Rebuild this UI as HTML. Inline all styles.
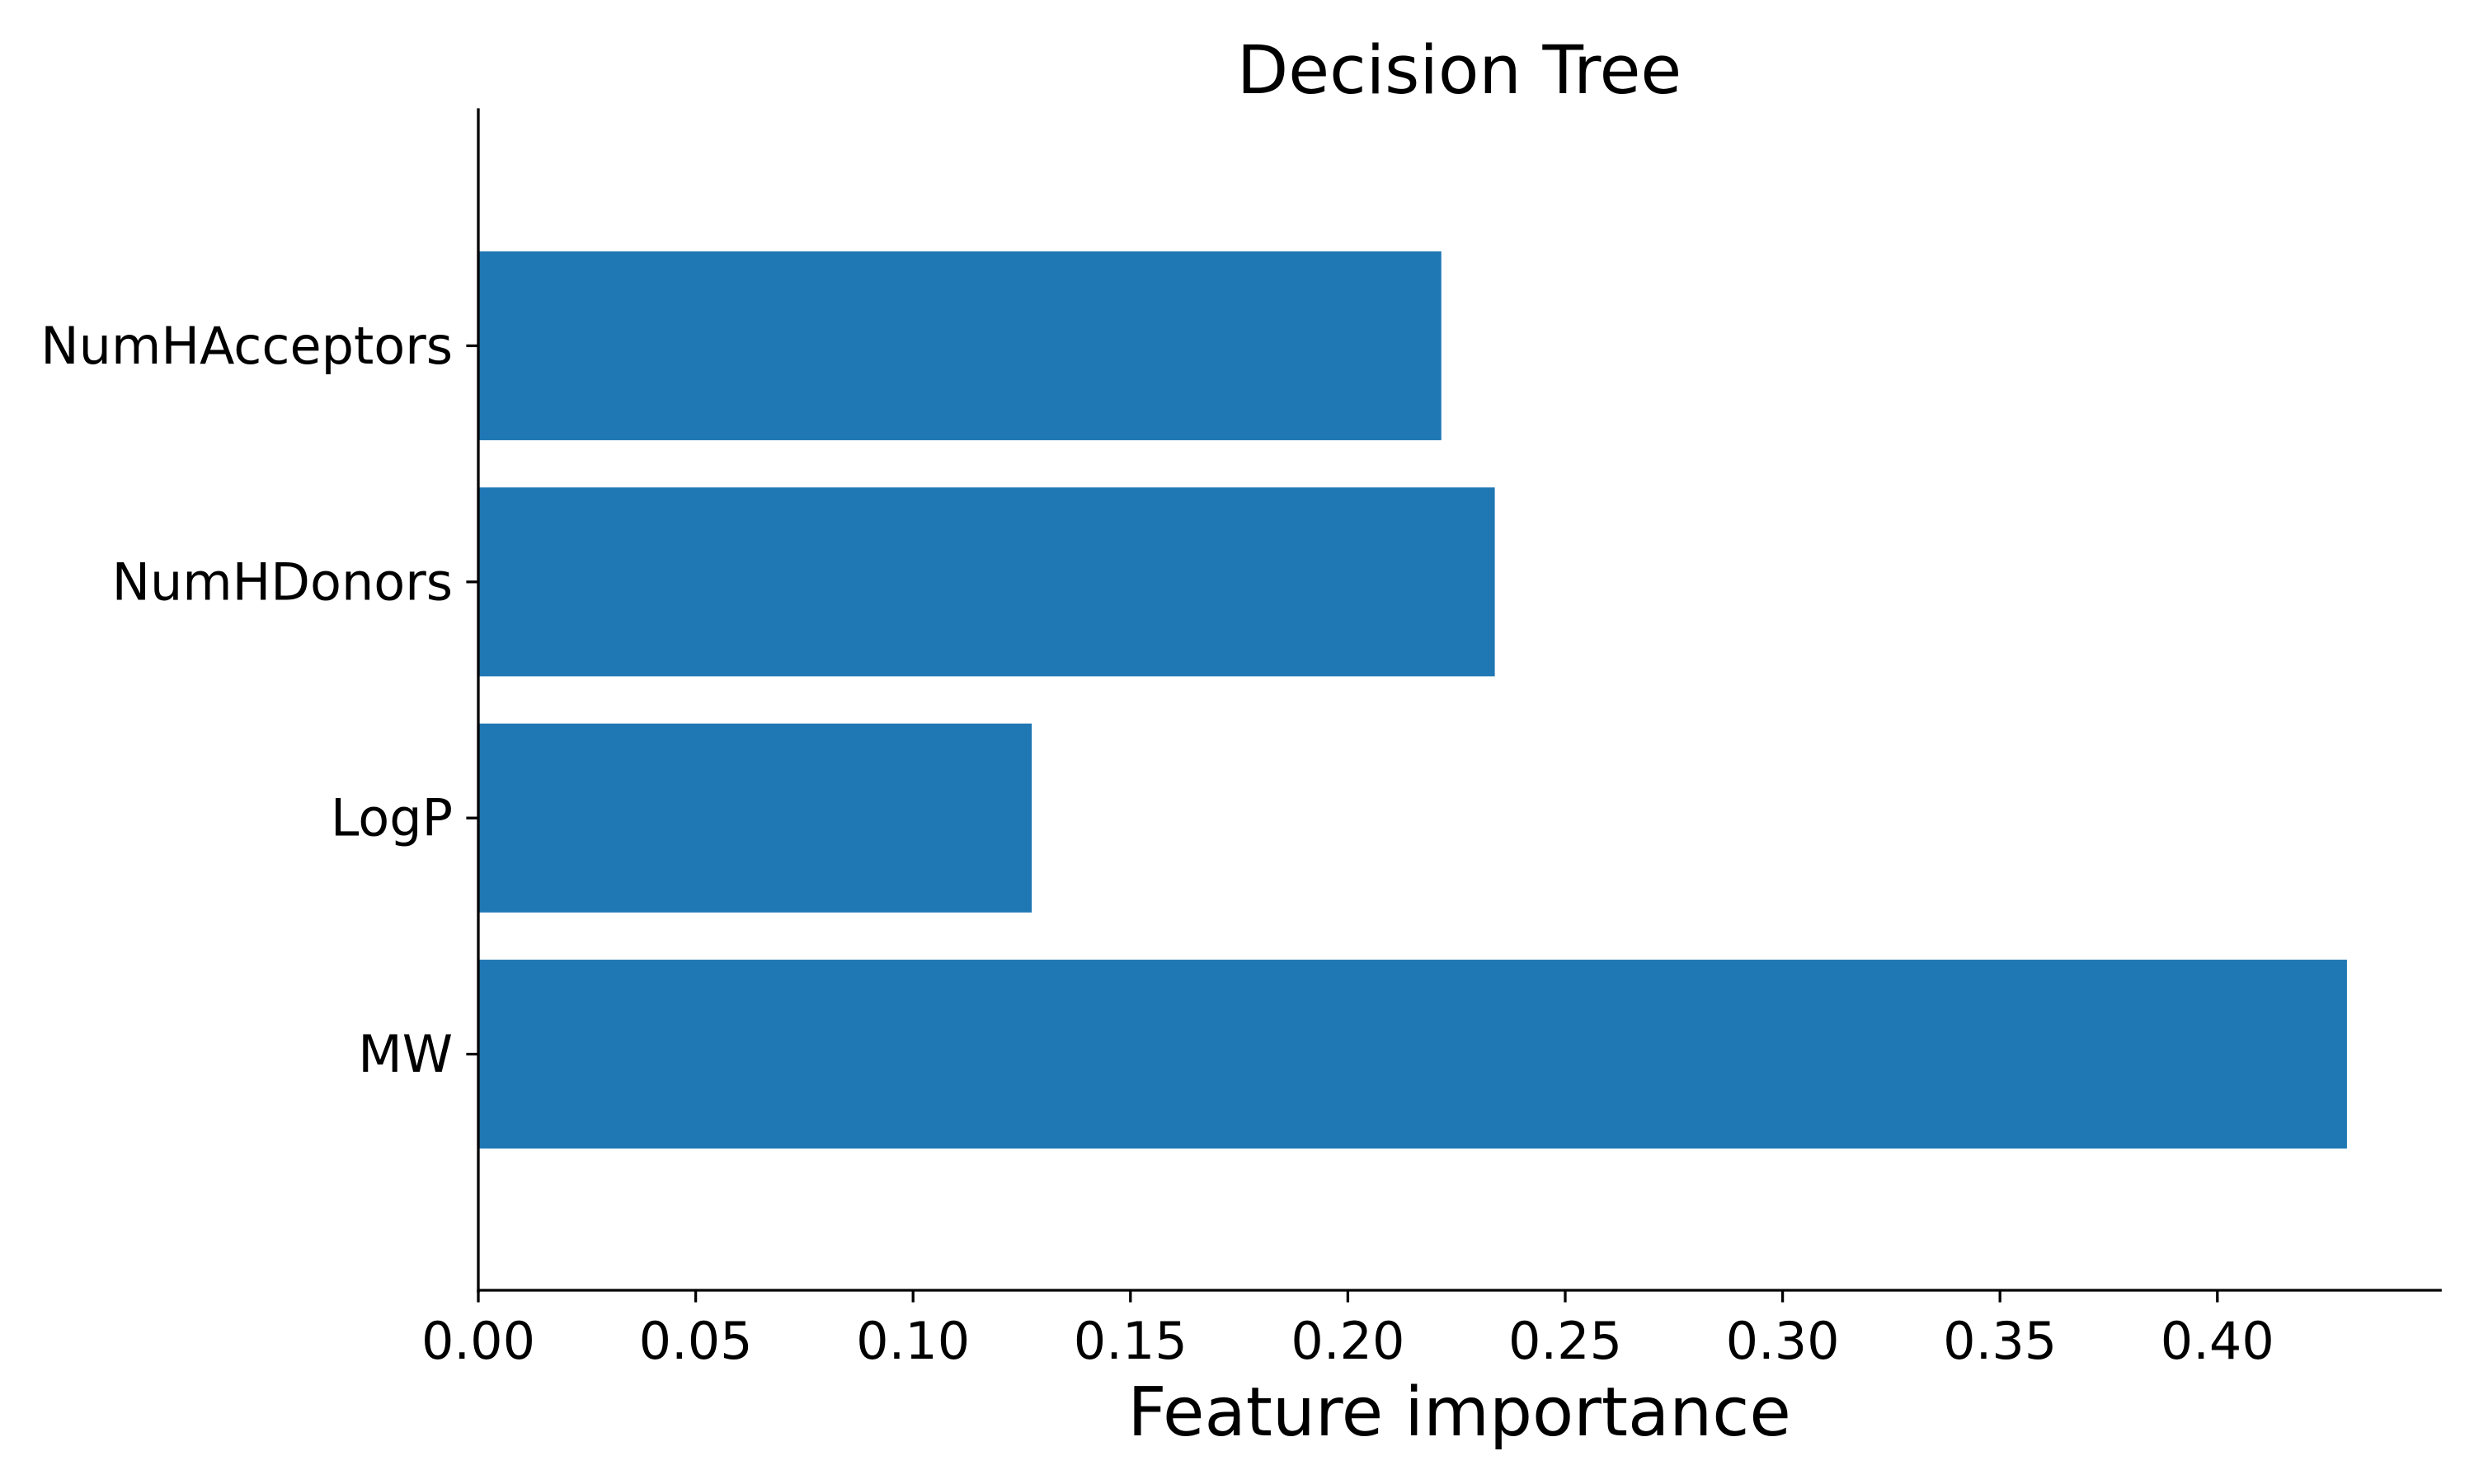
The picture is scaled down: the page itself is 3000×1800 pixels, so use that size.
<!DOCTYPE html>
<html><head><meta charset="utf-8"><style>
html,body{margin:0;padding:0;background:#fff;width:3000px;height:1800px;overflow:hidden}
svg text{font-family:"DejaVu Sans","Liberation Sans",sans-serif;fill:#000}
</style></head><body>
<svg id="chart" width="3000" height="1800" viewBox="0 0 3000 1800" xmlns="http://www.w3.org/2000/svg"></svg>
<script>
const categories = ["MW", "LogP", "NumHDonors", "NumHAcceptors"];
const importances = [0.4298, 0.1273, 0.2338, 0.2215];
const xTickValues = [0, 0.05, 0.10, 0.15, 0.20, 0.25, 0.30, 0.35, 0.40];
const xTickLabels = ["0.00","0.05","0.10","0.15","0.20","0.25","0.30","0.35","0.40"];

const NS = "http://www.w3.org/2000/svg";
const svg = document.getElementById('chart');
const L = 580, T = 133, B = 1565;
const pxPerUnit = 5272;
const xMax = Math.max(...importances) * 1.05;
const R = L + xMax * pxPerUnit;
const yMin = -1, yMax = categories.length;
function xs(v){ return L + v / xMax * (R - L); }
function ys(v){ return B - (v - yMin) / (yMax - yMin) * (B - T); }
function mk(tag, attrs){ const e = document.createElementNS(NS, tag); for (const k in attrs) e.setAttribute(k, attrs[k]); svg.appendChild(e); return e; }

categories.forEach((c, i) => {
  const y0 = ys(i + 0.4), y1 = ys(i - 0.4);
  const r = mk('rect', {x: xs(0), y: y0, width: xs(importances[i]) - xs(0), height: y1 - y0, fill: '#1f77b4'});
  
  
  const tk = mk('line', {x1: L, x2: L - 14.6, y1: ys(i), y2: ys(i), stroke: '#000', 'stroke-width': 3.3});
  
  
  const t = mk('text', {x: L - 31, y: ys(i), 'font-size': 62, 'text-anchor': 'end', 'dominant-baseline': 'central'});
  t.textContent = c;
  
  
});

xTickValues.forEach((v, i) => {
  const tk = mk('line', {x1: xs(v), x2: xs(v), y1: B, y2: B + 14.6, stroke: '#000', 'stroke-width': 3.3});
  
  
  const t = mk('text', {x: xs(v), y: 1648, 'font-size': 62, 'text-anchor': 'middle'});
  t.textContent = xTickLabels[i];
  
  
});

const ly = mk('line', {x1: L, x2: L, y1: T, y2: B + 1.6, stroke: '#000', 'stroke-width': 3.3, 'stroke-linecap': 'square'});


const lx = mk('line', {x1: L, x2: R, y1: B, y2: B, stroke: '#000', 'stroke-width': 3.3, 'stroke-linecap': 'square'});



const title = mk('text', {x: (L + R) / 2, y: 113, 'font-size': 81, 'text-anchor': 'middle'});
title.textContent = 'Decision Tree';


const xl = mk('text', {x: (L + R) / 2, y: 1741, 'font-size': 82, 'text-anchor': 'middle'});
xl.textContent = 'Feature importance';


</script>
</body></html>
